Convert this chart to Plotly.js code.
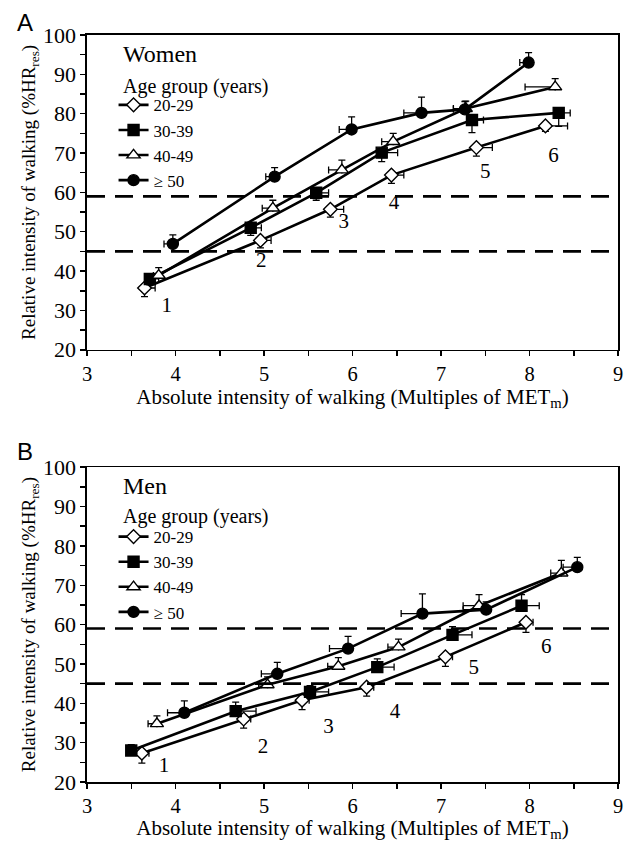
<!DOCTYPE html>
<html>
<head>
<meta charset="utf-8">
<script src="https://cdn.plot.ly/plotly-3.0.1.min.js"></script>
<style>html,body{margin:0;padding:0;background:#fff;}#chart{width:632px;height:842px;}</style>
</head>
<body>
<div id="chart"></div>
<script>
// ---------- Data ----------
const groups = ["20-29", "30-39", "40-49", "\u2265 50"];
const symbols = ["diamond", "square", "triangle-up", "circle"];
const fills = ["#fff", "#000", "#fff", "#000"];

// Panel A: Women
const womenX_20 = [3.65, 4.96, 5.75, 6.44, 7.40, 8.18];
const womenY_20 = [35.7, 47.8, 55.7, 64.4, 71.4, 76.9];
const womenX_30 = [3.71, 4.85, 5.59, 6.33, 7.35, 8.33];
const womenY_30 = [38.0, 51.0, 59.9, 70.1, 78.4, 80.2];
const womenX_40 = [3.81, 5.10, 5.88, 6.46, 7.28, 8.29];
const womenY_40 = [38.9, 56.0, 65.7, 72.9, 81.3, 86.8];
const womenX_50 = [3.97, 5.12, 5.99, 6.78, 7.27, 7.99];
const womenY_50 = [46.9, 64.0, 76.0, 80.2, 81.1, 93.0];
// error bars (one-sided)
const womenEY_20 = [2.2, 1.9, 2.0, 2.1, 2.2, 1.4];
const womenEX_20 = [0.12, 0.12, 0.15, 0.14, 0.18, 0.25];
const womenEY_30 = [1.5, 1.9, 1.9, 2.3, 3.2, 3.4];
const womenEX_30 = [0.10, 0.12, 0.14, 0.18, 0.13, 0.13];
const womenEY_40 = [2.0, 2.0, 2.5, 2.1, 1.9, 2.1];
const womenEX_40 = [0.06, 0.12, 0.15, 0.13, 0.14, 0.34];
const womenEY_50 = [2.3, 2.3, 3.2, 4.0, 2.0, 2.5];
const womenEX_50 = [0.10, 0.10, 0.14, 0.20, 0.13, 0.10];

// Panel B: Men
const menX_20 = [3.62, 4.77, 5.43, 6.16, 7.05, 7.96];
const menY_20 = [27.3, 36.0, 40.8, 44.1, 51.8, 60.6];
const menX_30 = [3.50, 4.68, 5.52, 6.28, 7.13, 7.91];
const menY_30 = [28.0, 38.0, 42.9, 49.2, 57.4, 64.8];
const menX_40 = [3.79, 5.04, 5.84, 6.52, 7.43, 8.36];
const menY_40 = [34.8, 44.7, 49.4, 54.3, 64.8, 73.1];
const menX_50 = [4.10, 5.15, 5.95, 6.79, 7.51, 8.54];
const menY_50 = [37.6, 47.5, 53.9, 62.8, 63.8, 74.6];
const menEY_20 = [2.5, 2.3, 2.4, 2.3, 2.4, 2.6];
const menEX_20 = [0.08, 0.08, 0.08, 0.08, 0.08, 0.08];
const menEY_30 = [1.5, 2.3, 1.6, 2.1, 2.1, 2.8];
const menEX_30 = [0.06, 0.23, 0.21, 0.19, 0.22, 0.20];
const menEY_40 = [2.0, 2.0, 2.2, 2.0, 2.8, 3.2];
const menEX_40 = [0.10, 0.10, 0.12, 0.12, 0.18, 0.12];
const menEY_50 = [3.0, 2.9, 3.1, 5.0, 2.0, 2.5];
const menEX_50 = [0.19, 0.18, 0.21, 0.24, 0.26, 0.16];

// stage labels 1-6
const stageText = ["1", "2", "3", "4", "5", "6"];
const stageXA = [3.90, 4.97, 5.90, 6.47, 7.50, 8.27];
const stageYA = [31.0, 42.4, 52.3, 57.2, 65.0, 69.0];
const stageXB = [3.87, 4.99, 5.73, 6.48, 7.37, 8.19];
const stageYB = [23.8, 28.8, 33.8, 37.6, 48.7, 54.0];

// reference (threshold) lines
const thresholds = [45, 59];

// ---------- Build ----------
const serif = "Liberation Serif, Times New Roman, serif";
const zeros = [0, 0, 0, 0, 0, 0];

function series(x, y, ex, ey, idx, xa, ya, legendName, dirX, dirY) {
  const sym = symbols[idx];
  return {
    type: "scatter", mode: "lines+markers",
    x: x, y: y, xaxis: xa, yaxis: ya,
    name: groups[idx], legend: legendName, showlegend: true,
    line: {color: "#000", width: 2.6},
    marker: {symbol: sym, size: sym === "triangle-up" ? 11.5 : (sym === "diamond" ? 10.5 : 11),
             color: fills[idx], line: {color: "#000", width: 1.4}},
    error_y: {type: "data", symmetric: false,
              array: dirY > 0 ? ey : zeros, arrayminus: dirY > 0 ? zeros : ey,
              color: "#000", thickness: 1.3, width: 3.5},
    error_x: {type: "data", symmetric: false,
              array: dirX > 0 ? ex : zeros, arrayminus: dirX > 0 ? zeros : ex,
              color: "#000", thickness: 1.3, width: 3.5}
  };
}

const traces = [
  series(womenX_20, womenY_20, womenEX_20, womenEY_20, 0, "x", "y", "legend", 1, -1),
  series(womenX_30, womenY_30, womenEX_30, womenEY_30, 1, "x", "y", "legend", 1, -1),
  series(womenX_40, womenY_40, womenEX_40, womenEY_40, 2, "x", "y", "legend", -1, 1),
  series(womenX_50, womenY_50, womenEX_50, womenEY_50, 3, "x", "y", "legend", -1, 1),
  series(menX_20, menY_20, menEX_20, menEY_20, 0, "x2", "y2", "legend2", 1, -1),
  series(menX_30, menY_30, menEX_30, menEY_30, 1, "x2", "y2", "legend2", 1, 1),
  series(menX_40, menY_40, menEX_40, menEY_40, 2, "x2", "y2", "legend2", -1, 1),
  series(menX_50, menY_50, menEX_50, menEY_50, 3, "x2", "y2", "legend2", -1, 1),
  {type: "scatter", mode: "text", x: stageXA, y: stageYA, text: stageText, xaxis: "x", yaxis: "y",
   showlegend: false, textfont: {family: serif, size: 21, color: "#000"}, hoverinfo: "skip"},
  {type: "scatter", mode: "text", x: stageXB, y: stageYB, text: stageText, xaxis: "x2", yaxis: "y2",
   showlegend: false, textfont: {family: serif, size: 21, color: "#000"}, hoverinfo: "skip"}
];

const xTitle = "Absolute intensity of walking (Multiples of MET<sub>m</sub>)";
const yTitle = "Relative intensity of walking (%HR<sub>res</sub>)";

function xAxis(anchor) {
  return {
    anchor: anchor, domain: [0, 1], range: [3, 9], dtick: 1, tick0: 3,
    ticks: "outside", ticklen: 5, tickwidth: 1.5, tickcolor: "#000",
    minor: {dtick: 0.5, ticks: "outside", ticklen: 5, tickwidth: 1.5, tickcolor: "#000"},
    showline: true, mirror: true, linewidth: 1.6, linecolor: "#000",
    showgrid: false, zeroline: false,
    tickfont: {family: serif, size: 20.5, color: "#000"},
    title: {text: xTitle, font: {family: serif, size: 21, color: "#000"}, standoff: 4}
  };
}
function yAxis(anchor, domain) {
  return {
    anchor: anchor, domain: domain, range: [20, 100], dtick: 10,
    ticks: "outside", ticklen: 5, tickwidth: 1.5, tickcolor: "#000",
    minor: {dtick: 5, ticks: "outside", ticklen: 5, tickwidth: 1.5, tickcolor: "#000"},
    showline: true, mirror: true, linewidth: 1.6, linecolor: "#000",
    showgrid: false, zeroline: false,
    tickfont: {family: serif, size: 22, color: "#000"},
    title: {text: yTitle, font: {family: serif, size: 19, color: "#000"}, standoff: 2}
  };
}

const shapes = [];
thresholds.forEach(v => {
  ["y", "y2"].forEach((ya, i) => {
    shapes.push({type: "line", xref: (i === 0 ? "x" : "x2") + " domain", x0: 0, x1: 1, yref: ya, y0: v, y1: v,
                 line: {color: "#000", width: 2.6, dash: "18px,10px"}});
  });
});

const legendStyle = (y) => ({
  x: 0.05, xanchor: "left", y: y, yanchor: "top",
  bgcolor: "rgba(0,0,0,0)", borderwidth: 0,
  font: {family: serif, size: 17, color: "#000"},
  itemwidth: 30, tracegroupgap: 0
});

const layout = {
  width: 632, height: 842,
  margin: {l: 87, r: 14, t: 35, b: 59.5},
  paper_bgcolor: "#fff", plot_bgcolor: "#fff",
  font: {family: serif, color: "#000"},
  xaxis: xAxis("y"),
  yaxis: yAxis("x", [0.5786, 1]),
  xaxis2: xAxis("y2"),
  yaxis2: yAxis("x2", [0, 0.4214]),
  showlegend: true,
  legend: legendStyle(0.930),
  legend2: legendStyle(0.352),
  shapes: shapes,
  annotations: [
    {text: "Women", xref: "paper", yref: "paper", x: 0.064, y: 0.9746, xanchor: "left", yanchor: "middle",
     showarrow: false, font: {family: serif, size: 24, color: "#000"}},
    {text: "Age group (years)", xref: "paper", yref: "paper", x: 0.064, y: 0.9317, xanchor: "left", yanchor: "middle",
     showarrow: false, font: {family: serif, size: 20, color: "#000"}},
    {text: "Men", xref: "paper", yref: "paper", x: 0.064, y: 0.3960, xanchor: "left", yanchor: "middle",
     showarrow: false, font: {family: serif, size: 24, color: "#000"}},
    {text: "Age group (years)", xref: "paper", yref: "paper", x: 0.064, y: 0.3552, xanchor: "left", yanchor: "middle",
     showarrow: false, font: {family: serif, size: 20, color: "#000"}},
    {text: "A", xref: "paper", yref: "paper", x: -0.117, y: 1.017, xanchor: "center", yanchor: "middle",
     showarrow: false, font: {family: "Liberation Sans, Arial, sans-serif", size: 24, color: "#000"}},
    {text: "B", xref: "paper", yref: "paper", x: -0.117, y: 0.442, xanchor: "center", yanchor: "middle",
     showarrow: false, font: {family: "Liberation Sans, Arial, sans-serif", size: 24, color: "#000"}}
  ]
};

Plotly.newPlot("chart", traces, layout, {staticPlot: true, displayModeBar: false});
</script>
</body>
</html>
